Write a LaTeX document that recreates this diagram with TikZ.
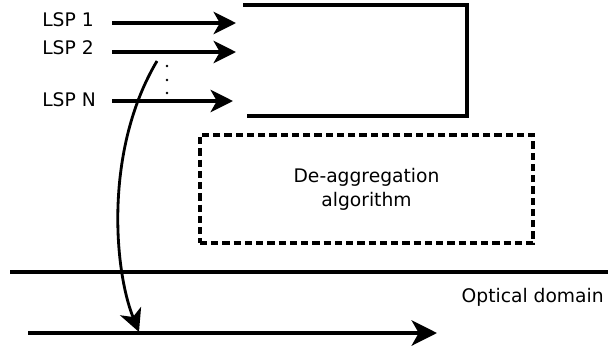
\documentclass[tikz,border=0pt]{standalone}
\usepackage{fontspec}
\setmainfont{DejaVu Sans}
\usepackage{tikz}
\usetikzlibrary{arrows.meta,positioning,calc}
\tikzset{
  lbl/.style={inner sep=0pt, font=\fontsize{13.3}{16.5}\selectfont},
  arrow/.style={-{Stealth[length=16pt,width=16pt,inset=4.5pt]}, line width=2.2pt},
  bigarrow/.style={-{Stealth[length=18pt,width=18pt,inset=5pt]}, line width=2.8pt},
  frame/.style={line width=2.3pt},
  algo/.style={draw, dashed, line width=2.4pt, dash pattern=on 5pt off 3pt, minimum width=333*0.025cm, minimum height=108*0.025cm, align=center, font=\fontsize{13.3}{17}\selectfont}
}

\begin{document}
\begin{tikzpicture}[x=0.025cm, y=-0.025cm]
    \useasboundingbox (0,0) rectangle (608,351);
    % Labels
    \node[lbl, anchor=west] (lsp1) at (42,20) {LSP 1};
    \node[lbl, anchor=west] (lsp2) at (42,48) {LSP 2};
    \node[lbl, anchor=west] (lspn) at (42,100) {LSP N};
    % Inputs
    \coordinate (a1) at (112,23);   \coordinate (b1) at (236,23);
    \coordinate (a2) at (112,52);   \coordinate (b2) at (236,52);
    \coordinate (an) at (112,101);  \coordinate (bn) at (233,101);
    \draw[arrow] (a1) -- (b1);
    \draw[arrow] (a2) -- (b2);
    \draw[arrow] (an) -- (bn);
    \foreach \y in {66,80,93} \fill (167,\y) circle (1pt);
    % Bracket
    \coordinate (tl) at (243,5);   \coordinate (tr) at (467,5);
    \coordinate (bl) at (247,116); \coordinate (br) at (467,116);
    \draw[frame] (tl) -- (tr) -- (br) -- (bl);
    % Algorithm box
    \node[algo] (deagg) at (366.5,189) {De-aggregation\\algorithm};
    % Domain boundary
    \coordinate (dl) at (10,272); \coordinate (dr) at (608,272);
    \draw[line width=2.3pt] (dl) -- (dr);
    \node[lbl, anchor=east] (optical) at (604,297) {Optical domain};
    % Optical path
    \coordinate (o1) at (28,333); \coordinate (o2) at (437,333);
    \draw[bigarrow] (o1) -- (o2);
    \coordinate (s) at (157,61); \coordinate (e) at (139,332);
    \draw[arrow, line width=2pt] (s) .. controls (104,150) and (114,270) .. (e);
\end{tikzpicture}
\end{document}
